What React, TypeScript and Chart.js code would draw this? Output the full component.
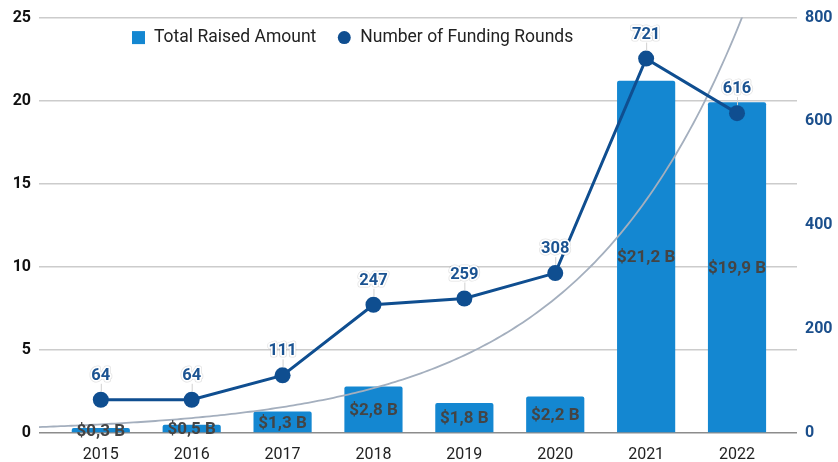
import React, { useEffect, useRef } from 'react';
import { Chart, registerables } from 'chart.js';

Chart.register(...registerables);

const years = ['2015', '2016', '2017', '2018', '2019', '2020', '2021', '2022'];
const raisedAmount = [0.3, 0.5, 1.3, 2.8, 1.8, 2.2, 21.2, 19.9];
const fundingRounds = [64, 64, 111, 247, 259, 308, 721, 616];
const leftAxis = { min: 0, max: 25, step: 5 };
const rightAxis = { min: 0, max: 800, step: 200 };
const xRange = { min: -0.68, max: 7.66 };
// exponential trendline fitted to Total Raised Amount (y = a * e^(b * index))
const trendA = 0.52;
const trendB = 0.549;
const seriesNames = ['Total Raised Amount', 'Number of Funding Rounds'];

const BAR_COLOR = '#1487d1';
const LINE_COLOR = '#0f4e90';
const TREND_COLOR = '#a4afbe';
const FONT = 'Roboto';

const formatBillions = (v: number) => '$' + v.toFixed(1).replace('.', ',') + ' B';

const labelsPlugin = {
  id: 'customLabels',
  afterDatasetsDraw(chart: any) {
    const ctx = chart.ctx;
    ctx.save();
    const barMeta = chart.getDatasetMeta(0);
    ctx.font = `bold 17px ${FONT}`;
    ctx.textAlign = 'center';
    ctx.textBaseline = 'middle';
    barMeta.data.forEach((el: any, i: number) => {
      const cy = (el.y + el.base) / 2;
      ctx.fillStyle = '#444444';
      ctx.fillText(formatBillions(raisedAmount[i]), el.x, cy + 1.5);
    });
    ctx.font = `bold 16.5px ${FONT}`;
    const lineMeta = chart.getDatasetMeta(1);
    lineMeta.data.forEach((el: any, i: number) => {
      const ty = el.y - 24;
      ctx.strokeStyle = '#d0d0d0';
      ctx.lineWidth = 1;
      ctx.beginPath();
      ctx.moveTo(el.x + 0.5, el.y - 8);
      ctx.lineTo(el.x + 0.5, ty + 8);
      ctx.stroke();
      const txt = String(fundingRounds[i]);
      ctx.lineJoin = 'round';
      ctx.strokeStyle = 'rgba(0,0,0,0.12)';
      ctx.lineWidth = 5;
      ctx.strokeText(txt, el.x, ty);
      ctx.strokeStyle = '#ffffff';
      ctx.lineWidth = 3.5;
      ctx.strokeText(txt, el.x, ty);
      ctx.fillStyle = '#1b5391';
      ctx.fillText(txt, el.x, ty);
    });
    ctx.restore();
  },
  afterDraw(chart: any) {
    const ctx = chart.ctx;
    const area = chart.chartArea;
    const cy = area.top + 20;
    ctx.save();
    ctx.font = `17.5px ${FONT}`;
    ctx.textBaseline = 'middle';
    ctx.textAlign = 'left';
    let x = area.left + 93;
    ctx.fillStyle = BAR_COLOR;
    ctx.fillRect(x, cy - 6.5, 13, 13);
    x += 22;
    ctx.fillStyle = '#222222';
    ctx.fillText(seriesNames[0], x, cy);
    x += ctx.measureText(seriesNames[0]).width + 22;
    ctx.fillStyle = LINE_COLOR;
    ctx.beginPath();
    ctx.arc(x + 6, cy, 6.5, 0, Math.PI * 2);
    ctx.fill();
    x += 22;
    ctx.fillStyle = '#222222';
    ctx.fillText(seriesNames[1], x, cy);
    ctx.restore();
  },
};

export default function App() {
  const ref = useRef<HTMLCanvasElement>(null);

  useEffect(() => {
    if (!ref.current) return;
    const trendPoints: { x: number; y: number }[] = [];
    for (let t = xRange.min; t <= xRange.max + 0.001; t += 0.04) {
      trendPoints.push({ x: t, y: trendA * Math.exp(trendB * t) });
    }
    const chart = new Chart(ref.current, {
      type: 'bar',
      data: {
        datasets: [
          {
            type: 'bar',
            label: seriesNames[0],
            data: raisedAmount.map((v, i) => ({ x: i, y: v })),
            backgroundColor: BAR_COLOR,
            borderRadius: { topLeft: 2, topRight: 2, bottomLeft: 0, bottomRight: 0 },
            borderSkipped: 'bottom',
            categoryPercentage: 0.64,
            barPercentage: 1,
            yAxisID: 'y',
            order: 2,
          } as any,
          {
            type: 'line',
            label: seriesNames[1],
            data: fundingRounds.map((v, i) => ({ x: i, y: v })),
            borderColor: LINE_COLOR,
            backgroundColor: LINE_COLOR,
            borderWidth: 3,
            pointRadius: 8,
            pointHoverRadius: 8,
            pointBorderWidth: 0,
            yAxisID: 'y1',
            order: 0,
          } as any,
          {
            type: 'line',
            label: 'trend',
            data: trendPoints,
            borderColor: TREND_COLOR,
            borderWidth: 1.8,
            pointRadius: 0,
            pointHoverRadius: 0,
            yAxisID: 'y',
            order: 1,
          } as any,
        ],
      },
      options: {
        animation: false,
        responsive: true,
        maintainAspectRatio: false,
        layout: { padding: { top: 17, left: 0, right: 0, bottom: 0 } },
        plugins: {
          legend: { display: false },
          tooltip: { enabled: false },
        },
        scales: {
          x: {
            type: 'linear',
            offset: false,
            min: xRange.min,
            max: xRange.max,
            grid: { display: false, offset: false },
            border: { display: false },
            ticks: {
              stepSize: 1,
              includeBounds: false,
              autoSkip: false,
              maxRotation: 0,
              padding: 4,
              color: '#222222',
              font: { family: FONT, size: 16 },
              callback: (v: any) => years[v] ?? '',
            },
            afterFit: (s: any) => {
              s.height = 29;
            },
          } as any,
          y: {
            position: 'left',
            min: leftAxis.min,
            max: leftAxis.max,
            ticks: {
              stepSize: leftAxis.step,
              padding: 8,
              color: '#111111',
              font: { family: FONT, size: 16, weight: 'bold' },
            },
            grid: {
              drawTicks: false,
              lineWidth: 1.5,
              color: (c: any) => (c.tick && c.tick.value === 0 ? '#8c8c8c' : '#cccccc'),
            },
            border: { display: false },
            afterFit: (s: any) => {
              s.width = 39;
            },
          } as any,
          y1: {
            position: 'right',
            min: rightAxis.min,
            max: rightAxis.max,
            ticks: {
              stepSize: rightAxis.step,
              padding: 8,
              color: '#1b4f8c',
              font: { family: FONT, size: 16, weight: 'bold' },
            },
            grid: { display: false, drawTicks: false },
            border: { display: false },
            afterFit: (s: any) => {
              s.width = 41;
            },
          } as any,
        },
      },
      plugins: [labelsPlugin],
    });
    return () => chart.destroy();
  }, []);

  return (
    <div style={{ position: 'absolute', left: 0, top: 0, width: 838, height: 462, background: '#fff' }}>
      <canvas ref={ref} />
    </div>
  );
}
